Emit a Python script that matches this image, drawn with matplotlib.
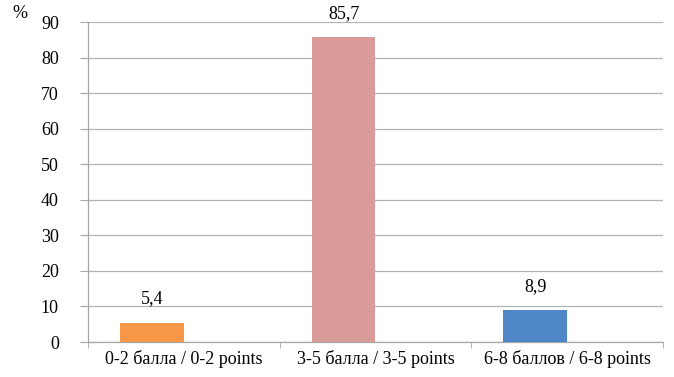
import matplotlib
matplotlib.use('Agg')
import matplotlib.pyplot as plt
import numpy as np

categories = ['0-2 балла / 0-2 points', '3-5 балла / 3-5 points', '6-8 баллов / 6-8 points']
values = [5.4, 85.7, 8.9]
value_labels = ['5,4', '85,7', '8,9']
bar_colors = ['#F79646', '#D99B9A', '#4F86C6']

plt.rcParams['font.family'] = ['Liberation Serif', 'DejaVu Serif']
plt.rcParams['font.size'] = 13

fig = plt.figure(figsize=(6.74, 3.77), dpi=100)
ax = fig.add_axes([0.1306, 0.0928, 0.853, 0.8488])

x = np.arange(len(categories))
ax.bar(x - 1/6, values, width=1/3, color=bar_colors, zorder=3)
for xi, v, lab in zip(x, values, value_labels):
    ax.text(xi - 1/6, v + 4.3, lab, ha='center', va='bottom', fontsize=13)

ax.set_xlim(-0.5, 2.5)
ax.set_ylim(0, 90)
ax.set_yticks(np.arange(0, 91, 10))
ax.set_xticks(x)
ax.set_xticklabels(categories)
ax.set_xticks([-0.5, 0.5, 1.5, 2.5], minor=True)
ax.tick_params(axis='x', which='major', length=0, pad=6)
ax.tick_params(axis='x', which='minor', length=4, color='#A6A6A6')
ax.tick_params(axis='y', length=6, color='#A6A6A6', pad=15)
ax.grid(axis='y', color='#B3B3B3', linewidth=0.9, zorder=0)

for s in ['top', 'right']:
    ax.spines[s].set_visible(False)
for s in ['left', 'bottom']:
    ax.spines[s].set_color('#A6A6A6')
    ax.spines[s].set_linewidth(0.9)

fig.text(12 / 674, 1 - 13 / 377, '%', fontsize=13, ha='left', va='center')

plt.savefig('out.png', dpi=100)
